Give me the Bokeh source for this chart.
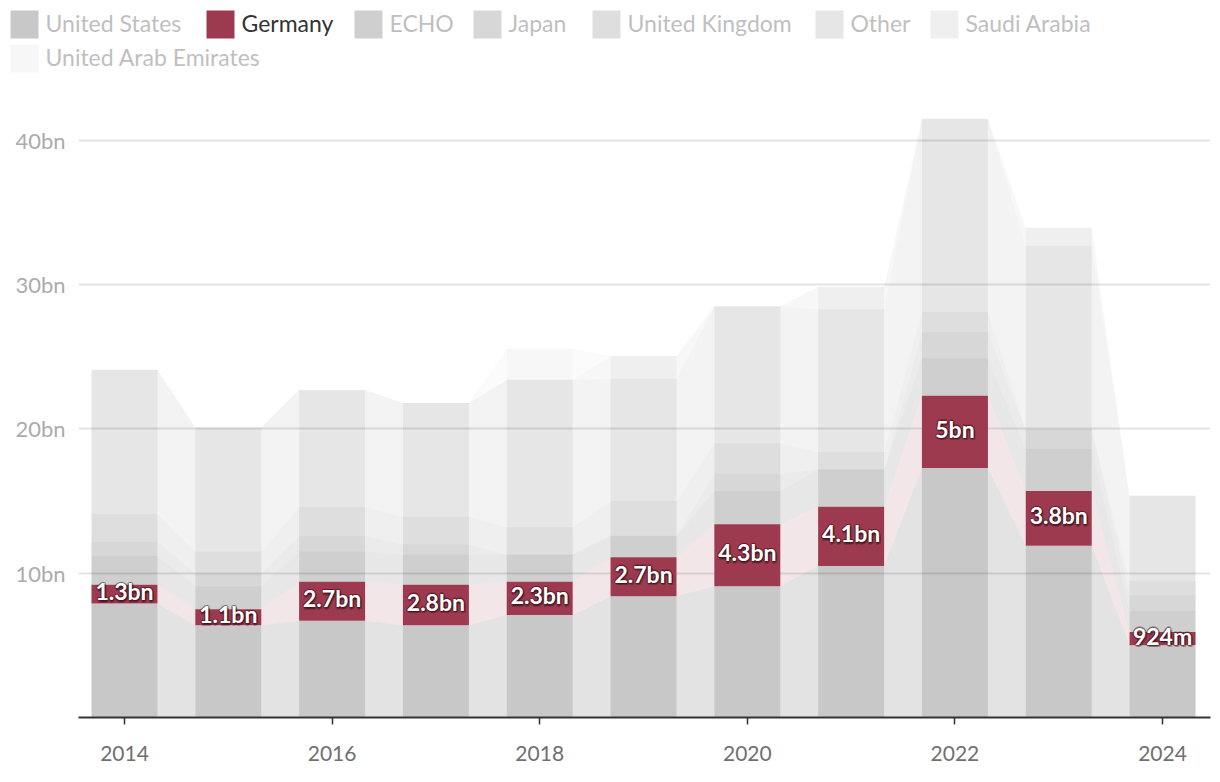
import numpy as np
from bokeh.plotting import figure
from bokeh.models import ColumnDataSource, Range1d, FixedTicker, PrintfTickFormatter
from bokeh.core.properties import value
from bokeh.embed import file_html
from bokeh.resources import INLINE

# ---------------- data (bn) ----------------
years = [2014, 2015, 2016, 2017, 2018, 2019, 2020, 2021, 2022, 2023, 2024]
series_names = ["United States", "Germany", "ECHO", "Japan", "United Kingdom",
                "Other", "Saudi Arabia", "United Arab Emirates"]
united_states = [7.9, 6.4, 6.7, 6.4, 7.1, 8.4, 9.1, 10.5, 17.3, 11.9, 5.0]
germany = [1.3, 1.1, 2.7, 2.8, 2.3, 2.7, 4.3, 4.1, 5.0, 3.8, 0.924]
echo = [2.0, 1.6, 2.1, 2.1, 1.9, 1.5, 2.3, 2.6, 2.6, 2.9, 1.45]
japan = [1.0, 0.9, 1.1, 0.7, 0.0, 0.0, 1.2, 0.0, 1.8, 1.4, 1.1]
united_kingdom = [1.9, 1.5, 2.0, 1.9, 1.9, 2.4, 2.1, 1.2, 1.4, 0.0, 1.0]
other = [10.0, 8.6, 8.1, 7.9, 10.2, 8.5, 9.5, 9.9, 13.4, 12.7, 5.9]
saudi_arabia = [0.0, 0.0, 0.0, 0.0, 0.0, 1.55, 0.0, 1.55, 0.0, 1.25, 0.0]
uae = [0.0, 0.0, 0.0, 0.0, 2.15, 0.0, 0.0, 0.0, 0.0, 0.0, 0.0]
x_ticks = [2014, 2016, 2018, 2020, 2022, 2024]
y_ticks = [10, 20, 30, 40]

# ---------------- styling ----------------
FONT = "Lato"
W = 1212
BAR_W = 0.636
HIGHLIGHT = "#9e3a4f"
grey_levels = [200, None, 207, 215, 222, 230, 239, 247]  # apparent grey of each stack
legend_colors = ["#c8c8c8", HIGHLIGHT, "#cfcfcf", "#d7d7d7", "#dedede", "#e6e6e6", "#efefef", "#f7f7f7"]

values = [united_states, germany, echo, japan, united_kingdom, other, saudi_arabia, uae]
arr = np.array(values, dtype=float)
tops = np.cumsum(arr, axis=0)
bottoms = tops - arr
xs_years = np.array(years, dtype=float)

p = figure(width=W, height=694,
           x_range=Range1d(2013.557, 2024.462), y_range=Range1d(0, 42.9),
           output_backend="svg", toolbar_location=None,
           min_border_left=78, min_border_right=2, min_border_top=18, min_border_bottom=57)
p.outline_line_color = None
p.background_fill_color = "white"
p.border_fill_color = "white"
p.xgrid.grid_line_color = None
p.ygrid.ticker = FixedTicker(ticks=y_ticks)
p.ygrid.grid_line_color = "#e3e3e3"
p.ygrid.grid_line_width = 2

# connecting bands between bars
for s in range(len(values)):
    bxs, bys = [], []
    for i in range(len(years) - 1):
        x0 = xs_years[i] + BAR_W / 2
        x1 = xs_years[i + 1] - BAR_W / 2
        bxs.append([x0, x0, x1, x1])
        bys.append([bottoms[s, i], tops[s, i], tops[s, i + 1], bottoms[s, i + 1]])
    if s == 1:
        p.patches(bxs, bys, fill_color=HIGHLIGHT, fill_alpha=0.13, line_color=None)
    else:
        a = (1 - grey_levels[s] / 255.0) * 0.5
        p.patches(bxs, bys, fill_color="black", fill_alpha=a, line_color=None)

# stacked bars
for s in range(len(values)):
    if s == 1:
        p.vbar(x=years, width=BAR_W, bottom=bottoms[s], top=tops[s],
               fill_color=HIGHLIGHT, line_color=None)
    else:
        a = 1 - grey_levels[s] / 255.0
        p.vbar(x=years, width=BAR_W, bottom=bottoms[s], top=tops[s],
               fill_color="black", fill_alpha=a, line_color=None)

# labels on highlighted series
def fmt(v):
    if v >= 1:
        return ("%.1f" % v).rstrip("0").rstrip(".") + "bn"
    return "%dm" % round(v * 1000)

mid = (bottoms[1] + tops[1]) / 2
lab_src = ColumnDataSource(dict(x=years, y=mid, t=[fmt(v) for v in germany]))
LY = -3
for dx, dy in [(-1.5, 0), (1.5, 0), (0, -1.5), (0, 1.5), (-1, -1), (1, 1), (-1, 1), (1, -1),
               (0, 2.5), (2, 2)]:
    p.text(x="x", y="y", text="t", source=lab_src, x_offset=dx, y_offset=dy + LY,
           text_color="#2a0a10", text_alpha=0.25, text_font=value(FONT),
           text_font_style="bold", text_font_size="23px",
           text_align="center", text_baseline="middle")
p.text(x="x", y="y", text="t", source=lab_src, y_offset=LY, text_color="white",
       text_font=value(FONT), text_font_style="bold", text_font_size="23px",
       text_align="center", text_baseline="middle")

# axes
p.xaxis.ticker = FixedTicker(ticks=x_ticks)
p.xaxis.formatter = PrintfTickFormatter(format="%d")
p.xaxis.axis_line_color = "#333333"
p.xaxis.axis_line_width = 2
p.xaxis.major_tick_line_color = "#333333"
p.xaxis.major_tick_line_width = 1.5
p.xaxis.major_tick_out = 7
p.xaxis.major_tick_in = 0
p.xaxis.minor_tick_line_color = None
p.xaxis.major_label_standoff = 21
p.xaxis.major_label_text_font = FONT
p.xaxis.major_label_text_font_size = "21px"
p.xaxis.major_label_text_color = "#707070"

p.yaxis.ticker = FixedTicker(ticks=y_ticks)
p.yaxis.formatter = PrintfTickFormatter(format="%dbn")
p.yaxis.axis_line_color = None
p.yaxis.major_tick_line_color = None
p.yaxis.major_tick_out = 0
p.yaxis.major_tick_in = 0
p.yaxis.minor_tick_line_color = None
p.yaxis.major_label_standoff = 13
p.yaxis.major_label_text_font = FONT
p.yaxis.major_label_text_font_size = "22px"
p.yaxis.major_label_text_color = "#ababab"

# ---------------- legend (separate svg figure, page coordinates) ----------------
lg = figure(width=W, height=80, x_range=Range1d(0, W), y_range=Range1d(80, 0),
            x_axis_type=None, y_axis_type=None, output_backend="svg",
            toolbar_location=None, min_border=0)
lg.outline_line_color = None
lg.grid.visible = False

leg_x = np.array([10, 206, 354, 473, 592, 815, 930, 10], dtype=float)
leg_y = np.array([24, 24, 24, 24, 24, 24, 24, 58], dtype=float)
SQ = 28
lg.quad(left=leg_x, right=leg_x + SQ, top=leg_y - SQ / 2, bottom=leg_y + SQ / 2,
        fill_color=legend_colors, line_color=None)
lg.text(x=leg_x + SQ + 7, y=leg_y - 2, text=series_names,
        text_color=["#333333" if n == "Germany" else "#bfbfbf" for n in series_names],
        text_font=value(FONT), text_font_size="23px",
        text_align="left", text_baseline="middle")

open("out.html", "w").write(file_html([lg, p], INLINE))
